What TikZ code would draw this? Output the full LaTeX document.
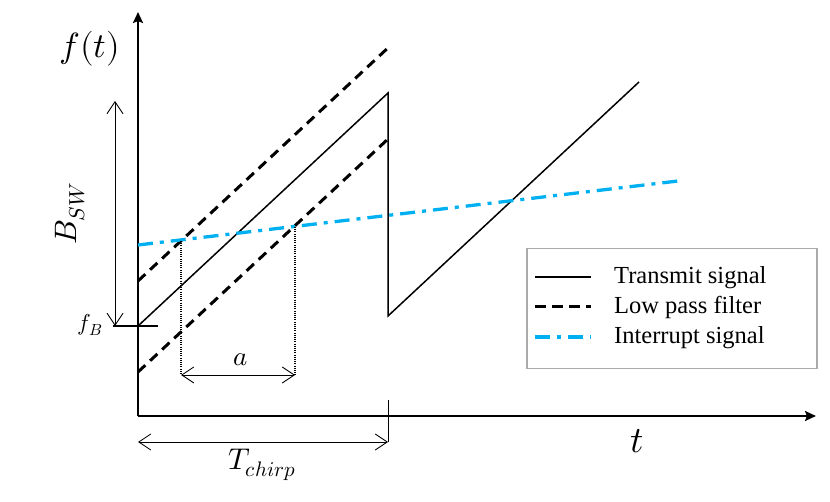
\documentclass[tikz,border=0pt]{standalone}
\usepackage{fontspec}
\usepackage{unicode-math}
\newfontfamily\legfont{Liberation Serif}
\usetikzlibrary{arrows.meta}
\definecolor{intblue}{RGB}{0,176,240}
\definecolor{boxgray}{RGB}{170,170,170}
\begin{document}
\begin{tikzpicture}[x=1pt,y=-1pt,
 axis/.style={line width=2.2pt,-{Stealth[length=11pt,width=10pt,inset=2pt]}},
 tx/.style={line width=1.5pt,line join=miter},
 lpf/.style={line width=3pt,dash pattern=on 10pt off 6.5pt},
 intr/.style={intblue,line width=3.3pt,dash pattern=on 15pt off 7pt on 4pt off 7pt},
 dim/.style={line width=0.9pt,{Straight Barb[length=12pt,width=16pt]}-{Straight Barb[length=12pt,width=16pt]}},
 thin/.style={line width=1pt},
 guide/.style={line width=1.2pt,dash pattern=on 1pt off 1.2pt},
 lbl/.style={inner sep=0pt},
 legtxt/.style={font=\legfont\fontsize{24.5}{28}\selectfont,anchor=base west,inner sep=0pt}]
\useasboundingbox (0,0) rectangle (830,502);
% coordinates
\coordinate (O) at (138,416);
\coordinate (Ytop) at (138,12);
\coordinate (Xright) at (816,416);
\coordinate (T0) at (138,326);
\coordinate (T1) at (388,93);
\coordinate (T2) at (388,316);
\coordinate (T3) at (639,82);
\coordinate (U0) at (138,281);
\coordinate (U1) at (390,46);
\coordinate (L0) at (138,372);
\coordinate (L1) at (388,139);
\coordinate (I0) at (138,245);
\coordinate (I1) at (678,181);
\coordinate (G1t) at (181,241);
\coordinate (G1b) at (181,375);
\coordinate (G2t) at (295,227);
\coordinate (G2b) at (295,375);
\coordinate (FBl) at (113,326);
\coordinate (FBr) at (158,326);
\coordinate (Bt) at (115,101);
\coordinate (Bb) at (115,326);
\coordinate (Ca) at (138,442);
\coordinate (Cb) at (388,442);
\coordinate (Ct) at (388,400);
% axes
\draw[axis] (O) -- (Ytop);
\draw[axis] (O) -- (Xright);
% signals
\draw[lpf] (U0) -- (U1);
\draw[lpf] (L0) -- (L1);
\draw[tx] (T0) -- (T1) -- (T2) -- (T3);
\draw[intr] (I0) -- (I1);
% guides
\draw[guide] (G1t) -- (G1b);
\draw[guide] (G2t) -- (G2b);
\draw[dim] (G1b) -- (G2b);
% fB tick
\draw[line width=2.2pt] (FBl) -- (FBr);
\draw[dim] (Bt) -- (Bb);
% Tchirp
\draw[thin] (Ct) -- (Cb);
\draw[dim] (Ca) -- (Cb);
% labels
\node[lbl,font=\fontsize{35}{40}\selectfont] (ft) at (90,49) {$f(t)$};
\node[lbl,font=\fontsize{31}{36}\selectfont,rotate=90] (bsw) at (70,214) {$B_{SW}$};
\node[lbl,font=\fontsize{23}{26}\selectfont] (fb) at (90,325) {$f_B$};
\node[lbl,font=\fontsize{27}{30}\selectfont] (al) at (241,360) {$a$};
\node[lbl,font=\fontsize{30}{34}\selectfont] (tc) at (262,465) {$T_{chirp}$};
\node[lbl,font=\fontsize{37}{40}\selectfont] (tl) at (637,441) {$t$};
% legend
\node[draw=boxgray,line width=1.5pt,minimum width=290pt,minimum height=120pt,anchor=north west,inner sep=0pt] (leg) at (526,248) {};
\coordinate (La1) at (535,277); \coordinate (Lb1) at (591,277);
\coordinate (La2) at (535,307); \coordinate (Lb2) at (591,307);
\coordinate (La3) at (535,337); \coordinate (Lb3) at (591,337);
\draw[tx] (La1) -- (Lb1);
\draw[line width=3pt,dash pattern=on 11pt off 6pt] (La2) -- (Lb2);
\draw[intr] (La3) -- (Lb3);
\node[legtxt] (lt1) at (614,284) {Transmit signal};
\node[legtxt] (lt2) at (614,314) {Low pass filter};
\node[legtxt] (lt3) at (614,344) {Interrupt signal};
\end{tikzpicture}
\end{document}
